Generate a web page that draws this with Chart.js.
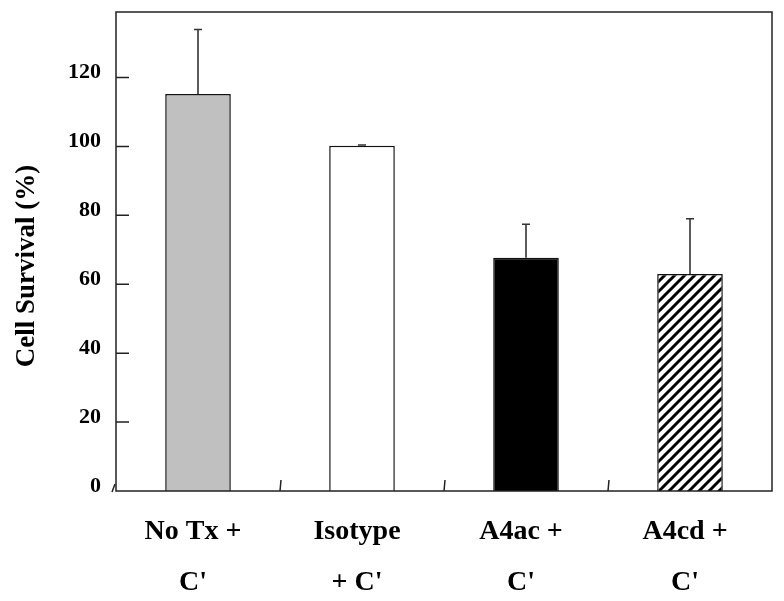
<!DOCTYPE html>
<html>
<head>
<meta charset="utf-8">
<script src="https://cdn.jsdelivr.net/npm/chart.js@4.4.1/dist/chart.umd.min.js"></script>
<style>
  html, body { margin: 0; padding: 0; background: #fff; }
  #wrap { width: 784px; height: 601px; }
</style>
</head>
<body>
<div id="wrap"><canvas id="survivalChart" width="784" height="601"></canvas></div>
<script>
// values
const categories = [['No Tx +', "C'"], ['Isotype', "+ C'"], ['A4ac +', "C'"], ['A4cd +', "C'"]];
const survival = [115.2, 100.2, 67.7, 63.0];
const errorUp = [18.7, 0.2, 9.7, 16.0];
const yTicks = [0, 20, 40, 60, 80, 100, 120];
const yMax = 139;
const yTitle = 'Cell Survival (%)';

const serif = "'Liberation Serif', 'Times New Roman', serif";

function hatchPattern() {
    const tile = document.createElement('canvas');
    tile.width = 10;
    tile.height = 10;
    const c = tile.getContext('2d');
    c.fillStyle = '#fff';
    c.fillRect(0, 0, 10, 10);
    c.strokeStyle = '#000';
    c.lineWidth = 3;
    c.beginPath();
    c.moveTo(-5, 5); c.lineTo(5, -5);
    c.moveTo(0, 10); c.lineTo(10, 0);
    c.moveTo(5, 15); c.lineTo(15, 5);
    c.stroke();
    return c.createPattern(tile, 'repeat');
}

const ctx = document.getElementById('survivalChart').getContext('2d');
const fills = ['#c0c0c0', '#ffffff', '#000000', hatchPattern()];

// frame, inward ticks, y title and the upper error whiskers
const framePlugin = {
    id: 'frame',
    afterDatasetsDraw(chart) {
        const { ctx: g, chartArea: a, scales: { x, y } } = chart;
        g.save();
        g.strokeStyle = '#333';
        g.lineWidth = 1.6;
        survival.forEach((v, i) => {
            const px = x.getPixelForValue(i);
            const top = y.getPixelForValue(v + errorUp[i]);
            const base = y.getPixelForValue(v);
            g.beginPath();
            g.moveTo(px, base); g.lineTo(px, top);
            g.moveTo(px - 4, top); g.lineTo(px + 4, top);
            g.stroke();
        });

        g.strokeStyle = '#222';
        g.lineWidth = 1.5;
        g.strokeRect(a.left, a.top, a.right - a.left, a.bottom - a.top);

        g.beginPath();
        yTicks.forEach((t) => {
            if (t === 0) return;
            const py = y.getPixelForValue(t);
            g.moveTo(a.left, py); g.lineTo(a.left + 13, py);
        });
        for (let i = 0; i < categories.length - 1; i++) {
            const px = (x.getPixelForValue(i) + x.getPixelForValue(i + 1)) / 2;
            g.moveTo(px, a.bottom); g.lineTo(px + 1, a.bottom - 11);
        }
        g.moveTo(a.left - 4, a.bottom + 1); g.lineTo(a.left - 1, a.bottom - 7);
        g.stroke();

        g.fillStyle = '#000';
        g.font = `bold 27px ${serif}`;
        g.textAlign = 'center';
        g.textBaseline = 'middle';
        g.translate(27, 266);
        g.rotate(-Math.PI / 2);
        g.fillText(yTitle, 0, 0);
        g.restore();
    }
};

new Chart(ctx, {
    type: 'bar',
    data: {
        labels: categories,
        datasets: [{
            data: survival,
            backgroundColor: fills,
            borderColor: '#111',
            borderWidth: 1.5,
            categoryPercentage: 1,
            barPercentage: 0.4,
        }]
    },
    options: {
        responsive: false,
        animation: false,
        layout: { padding: { top: 12, right: 12, left: 0, bottom: 0 } },
        plugins: { legend: { display: false }, tooltip: { enabled: false } },
        scales: {
            x: {
                grid: { display: false },
                border: { display: false },
                ticks: {
                    color: '#000',
                    padding: 7,
                    labelOffset: -5,
                    font: { family: serif, size: 28, weight: 'bold', lineHeight: 1.82 },
                    maxRotation: 0,
                },
                afterFit: (scale) => { scale.height = 110; },
            },
            y: {
                min: 0,
                max: yMax,
                grid: { display: false, drawTicks: false },
                border: { display: false },
                afterBuildTicks: (scale) => { scale.ticks = yTicks.map((v) => ({ value: v })); },
                ticks: {
                    color: '#000',
                    padding: 15,
                    labelOffset: -5,
                    font: { family: serif, size: 22, weight: 'bold' },
                },
                afterFit: (scale) => {
                    scale.width = 116;
                    scale.paddingTop = 0;
                    scale.paddingBottom = 0;
                },
            }
        }
    },
    plugins: [framePlugin]
});
</script>
</body>
</html>
